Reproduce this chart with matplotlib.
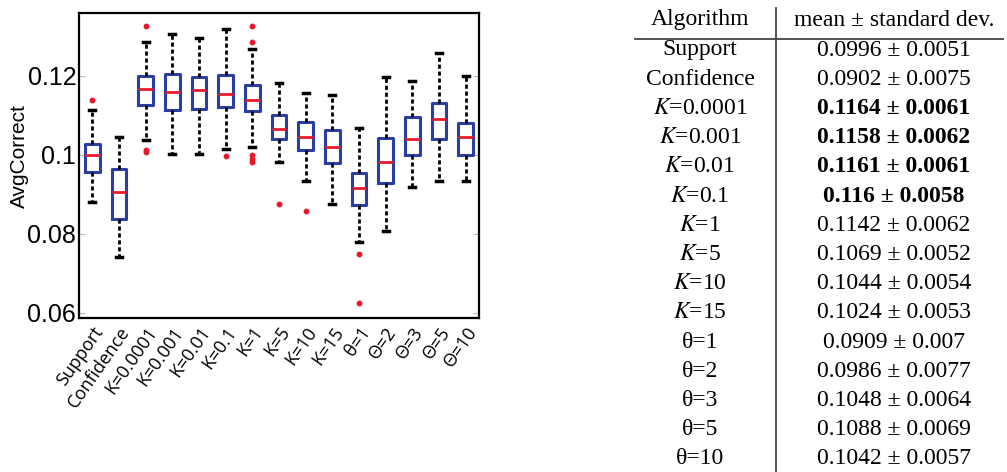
import numpy as np
import matplotlib
matplotlib.use('Agg')
import matplotlib.pyplot as plt
from matplotlib.lines import Line2D

# Box plot data
labels = ['Support', 'Confidence', 'K=0.0001', 'K=0.001', 'K=0.01', 'K=0.1', 'K=1',
          'K=5', 'K=10', 'K=15', 'θ=1', 'Θ=2', 'Θ=3', 'Θ=5', 'Θ=10']
whislo = [0.0881, 0.0742, 0.1037, 0.1002, 0.1002, 0.1015, 0.1019, 0.0983, 0.0935,
          0.0875, 0.0780, 0.0806, 0.0919, 0.0935, 0.0935]
q1 = [0.0956, 0.0838, 0.1125, 0.1114, 0.1117, 0.1122, 0.1112, 0.1039, 0.1013,
      0.0980, 0.0872, 0.0928, 0.0999, 0.1040, 0.1000]
med = [0.1000, 0.0905, 0.1166, 0.1158, 0.1165, 0.1155, 0.1140, 0.1065, 0.1045,
       0.1021, 0.0916, 0.0981, 0.1040, 0.1091, 0.1045]
q3 = [0.1027, 0.0963, 0.1200, 0.1204, 0.1198, 0.1202, 0.1177, 0.1101, 0.1083,
      0.1063, 0.0953, 0.1043, 0.1096, 0.1130, 0.1081]
whishi = [0.1114, 0.1046, 0.1285, 0.1305, 0.1295, 0.1318, 0.1269, 0.1183, 0.1156,
          0.1152, 0.1069, 0.1197, 0.1188, 0.1257, 0.1200]
fliers = [[0.1139], [], [0.1325, 0.1013, 0.1008], [], [], [0.0996],
          [0.1325, 0.1285, 0.0999, 0.0989, 0.0981], [0.0875], [0.0858], [],
          [0.0748, 0.0624], [], [], [], []]

y_ticks = [0.06, 0.08, 0.1, 0.12]
y_ticklabels = ['0.06', '0.08', '0.1', '0.12']

# Table data
tab_alg = ['Support', 'Confidence', '$K$=0.0001', '$K$=0.001', '$K$=0.01', '$K$=0.1',
           '$K$=1', '$K$=5', '$K$=10', '$K$=15', 'θ=1', 'θ=2', 'θ=3', 'θ=5', 'θ=10']
tab_mean = ['0.0996', '0.0902', '0.1164', '0.1158', '0.1161', '0.116', '0.1142',
            '0.1069', '0.1044', '0.1024', '0.0909', '0.0986', '0.1048', '0.1088', '0.1042']
tab_std = ['0.0051', '0.0075', '0.0061', '0.0062', '0.0061', '0.0058', '0.0062',
           '0.0052', '0.0054', '0.0053', '0.007', '0.0077', '0.0064', '0.0069', '0.0057']
tab_bold = [False, False, True, True, True, True, False, False, False, False,
            False, False, False, False, False]

plt.rcParams['mathtext.fontset'] = 'stix'

W, H = 1007, 472
fig = plt.figure(figsize=(W / 100, H / 100), dpi=100)
ax = fig.add_axes([79 / W, 1 - 318 / H, 400 / W, 305 / H])

stats = []
for i in range(len(labels)):
    stats.append(dict(label=labels[i], whislo=whislo[i], q1=q1[i], med=med[i],
                      q3=q3[i], whishi=whishi[i], fliers=fliers[i]))

box_blue = '#2b3fa3'
ax.bxp(stats, positions=np.arange(1, len(labels) + 1), widths=0.56,
       showfliers=True,
       boxprops=dict(color=box_blue, linewidth=2.2),
       medianprops=dict(color='#e8192c', linewidth=2),
       whiskerprops=dict(color='black', linewidth=2, linestyle=(0, (1.5, 1))),
       capprops=dict(color='black', linewidth=2.5),
       capwidths=0.22,
       flierprops=dict(marker='o', markersize=3.2, markerfacecolor='#e8192c',
                       markeredgecolor='#e8192c'))

ax.set_xlim(0.5, 15.5)
ax.set_ylim(0.0587, 0.1359)
ax.set_yticks(y_ticks)
ax.set_yticklabels(y_ticklabels, family='Liberation Sans', fontsize=18)
ax.tick_params(axis='y', direction='in', length=4, color='#bbbbbb', right=True, pad=2)
ax.tick_params(axis='x', length=0, pad=4)
ax.set_xticklabels(labels, rotation=55, ha='right', rotation_mode='anchor',
                   family=['Open Sans', 'DejaVu Sans'], fontsize=13)
ax.set_ylabel('AvgCorrect', family='Liberation Sans', fontsize=15)
ax.yaxis.set_label_coords(-0.125, 0.53)
for s in ax.spines.values():
    s.set_linewidth(1.6)

# Table on the right
serif = 'Liberation Serif'
x1, x2 = 700 / W, 894 / W
y0 = 20
dy = 29.2
fig.text(x1, 1 - y0 / H, 'Algorithm', family=serif, fontsize=17, ha='center', va='center')
fig.text(x2, 1 - y0 / H, 'mean ± standard dev.', family=serif, fontsize=17,
         ha='center', va='center')
for i in range(len(tab_alg)):
    yy = 1 - (50 + i * dy) / H
    fig.text(x1, yy, tab_alg[i], family=serif, fontsize=17, ha='center', va='center')
    fig.text(x2, yy, tab_mean[i] + ' ± ' + tab_std[i], family=serif, fontsize=17,
             ha='center', va='center', fontweight='bold' if tab_bold[i] else 'normal')

fig.add_artist(Line2D([776 / W, 776 / W], [1 - 8 / H, 0], color='#444444', linewidth=1.3))
fig.add_artist(Line2D([635 / W, 1003 / W], [1 - 39 / H, 1 - 39 / H], color='#444444',
                      linewidth=1.3))

fig.savefig('out.png', dpi=100)
